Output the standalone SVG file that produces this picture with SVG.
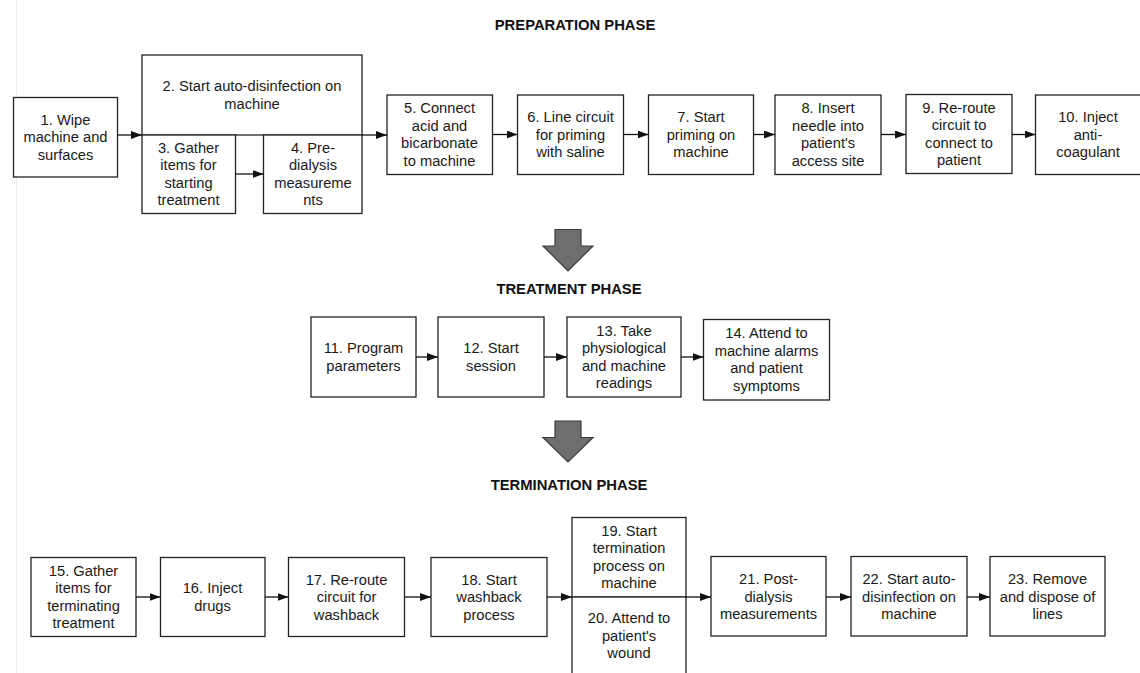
<svg xmlns="http://www.w3.org/2000/svg" width="1140" height="673" viewBox="0 0 1140 673">
<defs>
<marker id="ah" markerUnits="userSpaceOnUse" markerWidth="11" markerHeight="8" refX="11" refY="4" orient="auto">
<path d="M0,0 L11,4 L0,8 Z" fill="#111"/>
</marker>
<style>
.box{fill:#fff;stroke:#222;stroke-width:1.3}
.t{font-family:"Liberation Sans",Arial,sans-serif;font-size:14.7px;fill:#1a1a1a;text-anchor:middle}
.h{font-family:"Liberation Sans",Arial,sans-serif;font-size:14.8px;font-weight:bold;fill:#111;text-anchor:middle}
.c{stroke:#111;stroke-width:1.3;fill:none;marker-end:url(#ah)}
.big{fill:#6e6e6e;stroke:#3a3a3a;stroke-width:1.2}
</style>
</defs>
<rect width="1140" height="673" fill="#fff"/>
<line x1="16.5" y1="0" x2="16.5" y2="673" stroke="#ececec" stroke-width="1"/>

<text class="h" x="575" y="30">PREPARATION PHASE</text>
<text class="h" x="569" y="294">TREATMENT PHASE</text>
<text class="h" x="569" y="490">TERMINATION PHASE</text>

<path class="big" d="M555,229.5 H581 V246 H593 L568,271 L543,246 H555 Z"/>
<path class="big" d="M555,421 H581 V437.5 H593 L568,462 L543,437.5 H555 Z"/>

<g id="n1"><rect class="box" x="13.5" y="97.5" width="104" height="79.5"/><text class="t" x="65.5" y="124.75"><tspan x="65.5">1. Wipe</tspan><tspan x="65.5" dy="17.5">machine and</tspan><tspan x="65.5" dy="17.5">surfaces</tspan></text></g>
<g id="n2"><rect class="box" x="142" y="55" width="220" height="80"/><text class="t" x="252" y="91.25"><tspan x="252">2. Start auto-disinfection on</tspan><tspan x="252" dy="17.5">machine</tspan></text></g>
<g id="n3"><rect class="box" x="142" y="135" width="93.5" height="78.5"/><text class="t" x="188.5" y="152.75"><tspan x="188.5">3. Gather</tspan><tspan x="188.5" dy="17.5">items for</tspan><tspan x="188.5" dy="17.5">starting</tspan><tspan x="188.5" dy="17.5">treatment</tspan></text></g>
<g id="n4"><rect class="box" x="263.5" y="135" width="98.5" height="78.5"/><text class="t" x="313" y="152.75"><tspan x="313">4. Pre-</tspan><tspan x="313" dy="17.5">dialysis</tspan><tspan x="313" dy="17.5">measureme</tspan><tspan x="313" dy="17.5">nts</tspan></text></g>
<g id="n5"><rect class="box" x="387" y="95" width="105.5" height="79.5"/><text class="t" x="439.5" y="113.25"><tspan x="439.5">5. Connect</tspan><tspan x="439.5" dy="17.5">acid and</tspan><tspan x="439.5" dy="17.5">bicarbonate</tspan><tspan x="439.5" dy="17.5">to machine</tspan></text></g>
<g id="n6"><rect class="box" x="517.5" y="95" width="106" height="79.5"/><text class="t" x="570.5" y="122"><tspan x="570.5">6. Line circuit</tspan><tspan x="570.5" dy="17.5">for priming</tspan><tspan x="570.5" dy="17.5">with saline</tspan></text></g>
<g id="n7"><rect class="box" x="648.5" y="95" width="105" height="79.5"/><text class="t" x="701" y="122"><tspan x="701">7. Start</tspan><tspan x="701" dy="17.5">priming on</tspan><tspan x="701" dy="17.5">machine</tspan></text></g>
<g id="n8"><rect class="box" x="775" y="95" width="106" height="79.5"/><text class="t" x="828" y="113.25"><tspan x="828">8. Insert</tspan><tspan x="828" dy="17.5">needle into</tspan><tspan x="828" dy="17.5">patient's</tspan><tspan x="828" dy="17.5">access site</tspan></text></g>
<g id="n9"><rect class="box" x="906" y="94.5" width="106" height="79"/><text class="t" x="959" y="112.75"><tspan x="959">9. Re-route</tspan><tspan x="959" dy="17.5">circuit to</tspan><tspan x="959" dy="17.5">connect to</tspan><tspan x="959" dy="17.5">patient</tspan></text></g>
<g id="n10"><rect class="box" x="1035.5" y="95" width="106" height="79.5"/><text class="t" x="1088" y="122"><tspan x="1088">10. Inject</tspan><tspan x="1088" dy="17.5">anti-</tspan><tspan x="1088" dy="17.5">coagulant</tspan></text></g>

<g id="n11"><rect class="box" x="311" y="317" width="105" height="80"/><text class="t" x="363.5" y="353.25"><tspan x="363.5">11. Program</tspan><tspan x="363.5" dy="17.5">parameters</tspan></text></g>
<g id="n12"><rect class="box" x="438" y="317" width="106" height="80"/><text class="t" x="491" y="353.25"><tspan x="491">12. Start</tspan><tspan x="491" dy="17.5">session</tspan></text></g>
<g id="n13"><rect class="box" x="567" y="317" width="114" height="80"/><text class="t" x="624" y="335.75"><tspan x="624">13. Take</tspan><tspan x="624" dy="17.5">physiological</tspan><tspan x="624" dy="17.5">and machine</tspan><tspan x="624" dy="17.5">readings</tspan></text></g>
<g id="n14"><rect class="box" x="703.5" y="319.5" width="126" height="80.5"/><text class="t" x="766.5" y="338.25"><tspan x="766.5">14. Attend to</tspan><tspan x="766.5" dy="17.5">machine alarms</tspan><tspan x="766.5" dy="17.5">and patient</tspan><tspan x="766.5" dy="17.5">symptoms</tspan></text></g>

<g id="n15"><rect class="box" x="31" y="557.5" width="105" height="79"/><text class="t" x="83.5" y="575.75"><tspan x="83.5">15. Gather</tspan><tspan x="83.5" dy="17.5">items for</tspan><tspan x="83.5" dy="17.5">terminating</tspan><tspan x="83.5" dy="17.5">treatment</tspan></text></g>
<g id="n16"><rect class="box" x="160.5" y="557.5" width="104.5" height="79"/><text class="t" x="212.5" y="593.25"><tspan x="212.5">16. Inject</tspan><tspan x="212.5" dy="17.5">drugs</tspan></text></g>
<g id="n17"><rect class="box" x="288.5" y="557.5" width="116" height="79"/><text class="t" x="346.5" y="584.5"><tspan x="346.5">17. Re-route</tspan><tspan x="346.5" dy="17.5">circuit for</tspan><tspan x="346.5" dy="17.5">washback</tspan></text></g>
<g id="n18"><rect class="box" x="431" y="557.5" width="116" height="79"/><text class="t" x="489" y="584.5"><tspan x="489">18. Start</tspan><tspan x="489" dy="17.5">washback</tspan><tspan x="489" dy="17.5">process</tspan></text></g>
<g id="n19"><rect class="box" x="572" y="517.5" width="114" height="79.5"/><text class="t" x="629" y="535.75"><tspan x="629">19. Start</tspan><tspan x="629" dy="17.5">termination</tspan><tspan x="629" dy="17.5">process on</tspan><tspan x="629" dy="17.5">machine</tspan></text></g>
<g id="n20"><rect class="box" x="572" y="597" width="114" height="90"/><text class="t" x="629" y="623"><tspan x="629">20. Attend to</tspan><tspan x="629" dy="17.5">patient's</tspan><tspan x="629" dy="17.5">wound</tspan></text></g>
<g id="n21"><rect class="box" x="711" y="556.5" width="115" height="79.5"/><text class="t" x="768.5" y="584"><tspan x="768.5">21. Post-</tspan><tspan x="768.5" dy="17.5">dialysis</tspan><tspan x="768.5" dy="17.5">measurements</tspan></text></g>
<g id="n22"><rect class="box" x="851" y="556.5" width="116" height="79.5"/><text class="t" x="909" y="584"><tspan x="909">22. Start auto-</tspan><tspan x="909" dy="17.5">disinfection on</tspan><tspan x="909" dy="17.5">machine</tspan></text></g>
<g id="n23"><rect class="box" x="990" y="556.5" width="115" height="79.5"/><text class="t" x="1047.5" y="584"><tspan x="1047.5">23. Remove</tspan><tspan x="1047.5" dy="17.5">and dispose of</tspan><tspan x="1047.5" dy="17.5">lines</tspan></text></g>

<g id="connectors">
<line class="c" x1="117.5" y1="135" x2="142" y2="135"/>
<line class="c" x1="235.5" y1="174" x2="263.5" y2="174"/>
<line class="c" x1="362" y1="135" x2="387" y2="135"/>
<line class="c" x1="492.5" y1="134.5" x2="517.5" y2="134.5"/>
<line class="c" x1="623.5" y1="134.5" x2="648.5" y2="134.5"/>
<line class="c" x1="753.5" y1="134.5" x2="775" y2="134.5"/>
<line class="c" x1="881" y1="134.5" x2="906" y2="134.5"/>
<line class="c" x1="1012" y1="134.5" x2="1035.5" y2="134.5"/>
<line class="c" x1="416" y1="357" x2="438" y2="357"/>
<line class="c" x1="544" y1="357" x2="567" y2="357"/>
<line class="c" x1="681" y1="357" x2="703.5" y2="357"/>
<line class="c" x1="136" y1="597" x2="160.5" y2="597"/>
<line class="c" x1="265" y1="597" x2="288.5" y2="597"/>
<line class="c" x1="404.5" y1="597" x2="431" y2="597"/>
<line class="c" x1="547" y1="597" x2="572" y2="597"/>
<line class="c" x1="686" y1="597" x2="711" y2="597"/>
<line class="c" x1="826" y1="597" x2="851" y2="597"/>
<line class="c" x1="967" y1="597" x2="990" y2="597"/>
</g>
</svg>
